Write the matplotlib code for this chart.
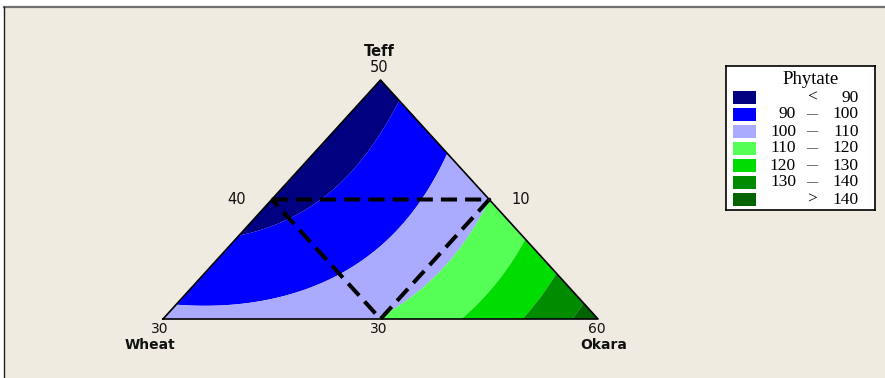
import numpy as np
import matplotlib
matplotlib.use("Agg")
import matplotlib.pyplot as plt
import matplotlib.tri as mtri
from matplotlib.patches import Rectangle

# special-cubic mixture model for phytate, pseudo-components (teff, wheat, okara)
# terms: a, b, c, ab, ac, bc, ab(a-b), ac(a-c), bc(b-c), abc
phytate_coef = [86.3, 102.9, 145.8, -30.0, -24.3, -56.0, 4.2, 7.2, 3.5, -4.7]

levels = [0, 90, 100, 110, 120, 130, 140, 1000]
band_colors = ["#000080", "#0000ff", "#aaaaff", "#55ff55", "#00dd00", "#008c00", "#006400"]
legend_rows = [("", "<", "90"), ("90", "—", "100"), ("100", "—", "110"), ("110", "—", "120"),
               ("120", "—", "130"), ("130", "—", "140"), ("", ">", "140")]

W, H = 885, 378
BG = "#efebe0"


def terms(a, c):
    b = 1 - a - c
    return np.column_stack([a, b, c, a * b, a * c, b * c,
                            a * b * (a - b), a * c * (a - c), b * c * (b - c), a * b * c])


fig = plt.figure(figsize=(W / 100, H / 100), dpi=100, facecolor="white")
fig.patches.append(Rectangle((4 / W, 0), 1, 1 - 7 / H, transform=fig.transFigure,
                             facecolor=BG, edgecolor="none", zorder=-5))
fig.add_artist(plt.Line2D([4 / W, 1], [1 - 7 / H] * 2, color="#707070", lw=1.6))
fig.add_artist(plt.Line2D([4 / W] * 2, [0, 1 - 7 / H], color="#202020", lw=1.0))

# ternary area: x = okara + teff/2, y = teff
ax = fig.add_axes([163 / W, 1 - 319 / H, 435 / W, 239 / H])
ax.set_xlim(0, 1)
ax.set_ylim(0, 1)
ax.axis("off")

n = 160
ga, gc = [], []
for i in range(n + 1):
    for j in range(n + 1 - i):
        ga.append(i / n)
        gc.append(j / n)
ga, gc = np.array(ga), np.array(gc)
gy = terms(ga, gc) @ np.array(phytate_coef)
tri = mtri.Triangulation(gc + 0.5 * ga, ga)
ax.tricontourf(tri, gy, levels=levels, colors=band_colors, antialiased=True)

ax.plot([0, 0.5, 1, 0], [0, 1, 0, 0], color="black", lw=1.2, clip_on=False)
ax.plot([0.25, 0.75, 0.5, 0.25], [0.5, 0.5, 0, 0.5], color="black", lw=2.9,
        dashes=(4, 2), clip_on=False)


def px_text(x, y, s, **kw):
    fig.text(x / W, 1 - y / H, s, ha="center", va="center", **kw)


sans = dict(family="DejaVu Sans", fontsize=10.5, color="#111111")
low = {**sans, "fontsize": 10}
px_text(379, 51, "Teff", fontweight="bold", **sans)
px_text(379, 68, "50", **sans)
px_text(237, 199, "40", **sans)
px_text(521, 199, "10", **sans)
px_text(160, 329, "30", **low)
px_text(150, 345, "Wheat", fontweight="bold", **low)
px_text(379, 329, "30", **low)
px_text(597, 329, "60", **low)
px_text(604, 345, "Okara", fontweight="bold", **low)

# legend box
lg = fig.add_axes([726 / W, 1 - 210 / H, 149 / W, 144 / H])
lg.set_xlim(726, 875)
lg.set_ylim(210, 66)
lg.set_xticks([])
lg.set_yticks([])
lg.set_facecolor("white")
for s in lg.spines.values():
    s.set_linewidth(1.2)
serif = dict(family="Liberation Serif", fontsize=12.5, va="center")
lg.text(811, 80, "Phytate", ha="center", **{**serif, "fontsize": 13.5})
for k, (lo, mid, hi) in enumerate(legend_rows):
    y = 97.5 + 17 * k
    lg.add_patch(Rectangle((733, y - 6.5), 23, 13, facecolor=band_colors[k], edgecolor="none"))
    lg.text(796, y, lo, ha="right", **serif)
    mid_size = 8 if mid == "—" else 12.5
    lg.text(812, y, mid, ha="center", **{**serif, "fontsize": mid_size})
    lg.text(858.5, y, hi, ha="right", **serif)

fig.savefig("out.png", dpi=100, facecolor="white")
